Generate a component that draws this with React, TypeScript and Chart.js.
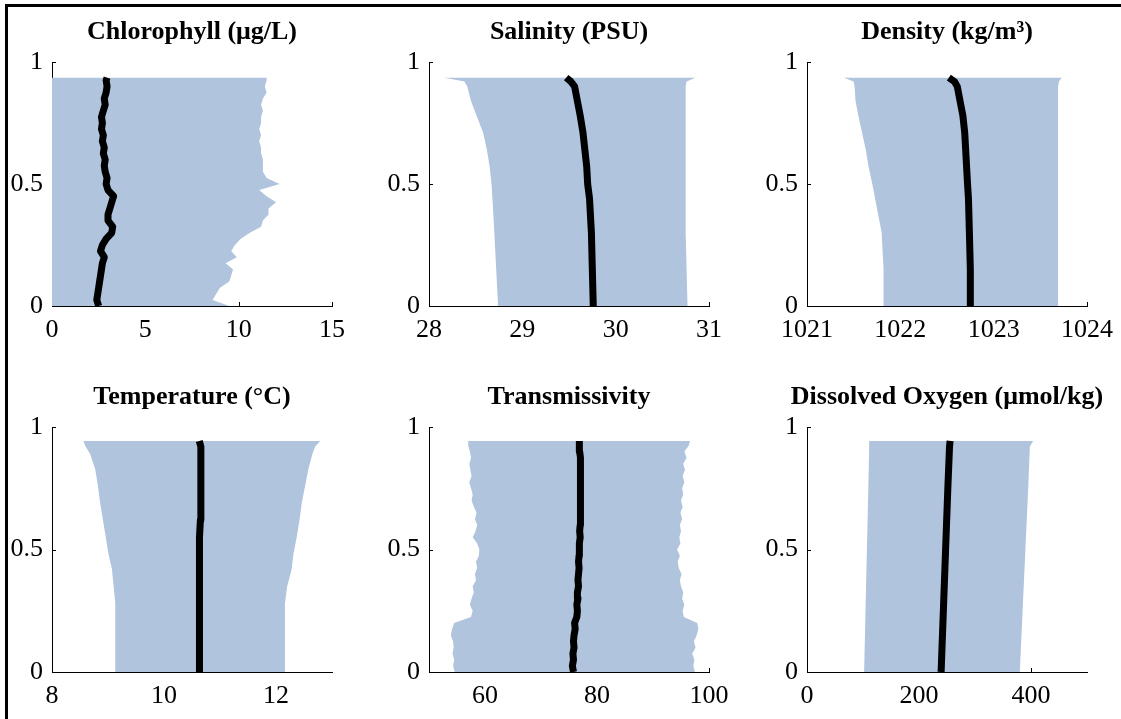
import React, { useEffect, useRef } from "react";
import { Chart, registerables } from "chart.js";

Chart.register(...registerables);

const FONT = "'Liberation Serif', 'Times New Roman', serif";
const FILL = "#B0C4DE";

// shared y axis (normalized depth)
const yTickValues = [0, 0.5, 1];
const yTickLabels = ["0", "0.5", "1"];

// ---------- Chlorophyll ----------
const chlDepth = [0, 0.025, 0.05, 0.075, 0.1, 0.125, 0.15, 0.175, 0.2, 0.225, 0.25, 0.275, 0.3, 0.325, 0.35, 0.375, 0.4, 0.425, 0.45, 0.475, 0.5, 0.525, 0.55, 0.575, 0.6, 0.625, 0.65, 0.675, 0.7, 0.725, 0.75, 0.775, 0.8, 0.825, 0.85, 0.875, 0.9, 0.925, 0.936];
const chlMin = [0, 0, 0, 0, 0, 0, 0, 0, 0, 0, 0, 0, 0, 0, 0, 0, 0, 0, 0, 0, 0, 0, 0, 0, 0, 0, 0, 0, 0, 0, 0, 0, 0, 0, 0, 0, 0, 0, 0];
const chlMean = [2.5, 2.4, 2.45, 2.5, 2.55, 2.6, 2.65, 2.7, 2.8, 2.6, 2.7, 2.9, 3.2, 3.25, 3.0, 3.0, 3.1, 3.2, 3.3, 3.0, 2.9, 2.95, 2.85, 2.8, 2.85, 2.75, 2.8, 2.7, 2.75, 2.65, 2.7, 2.65, 2.75, 2.85, 2.8, 2.9, 2.95, 2.9, 2.95];
const chlMax = [9.5, 8.6, 8.8, 9.0, 9.5, 9.6, 9.7, 9.3, 9.9, 9.6, 9.8, 10.1, 10.6, 11.2, 11.3, 11.6, 11.6, 12.0, 11.5, 11.1, 12.2, 11.5, 11.3, 11.3, 11.3, 11.2, 11.2, 11.1, 11.2, 11.1, 11.2, 11.2, 11.3, 11.2, 11.3, 11.5, 11.4, 11.5, 11.5];
const chlTicks = [0, 5, 10, 15];
const chlTickLabels = ["0", "5", "10", "15"];

// ---------- Salinity ----------
const salDepth = [0, 0.15, 0.3, 0.44, 0.5, 0.57, 0.64, 0.71, 0.78, 0.84, 0.9, 0.92, 0.936];
const salMin = [28.74, 28.72, 28.70, 28.68, 28.67, 28.65, 28.62, 28.58, 28.51, 28.45, 28.41, 28.38, 28.15];
const salMean = [29.76, 29.75, 29.74, 29.72, 29.70, 29.69, 29.67, 29.65, 29.62, 29.59, 29.56, 29.52, 29.47];
const salMax = [30.77, 30.76, 30.75, 30.75, 30.75, 30.75, 30.75, 30.75, 30.75, 30.75, 30.75, 30.76, 30.86];
const salTicks = [28, 29, 30, 31];
const salTickLabels = ["28", "29", "30", "31"];

// ---------- Density ----------
const denDepth = [0, 0.15, 0.3, 0.44, 0.5, 0.57, 0.64, 0.71, 0.78, 0.84, 0.9, 0.92, 0.936];
const denMin = [1021.82, 1021.82, 1021.80, 1021.73, 1021.70, 1021.66, 1021.63, 1021.59, 1021.55, 1021.52, 1021.51, 1021.50, 1021.39];
const denMean = [1022.75, 1022.75, 1022.74, 1022.73, 1022.72, 1022.71, 1022.70, 1022.69, 1022.67, 1022.64, 1022.61, 1022.58, 1022.52];
const denMax = [1023.69, 1023.69, 1023.69, 1023.69, 1023.69, 1023.69, 1023.69, 1023.69, 1023.69, 1023.69, 1023.69, 1023.70, 1023.73];
const denTicks = [1021, 1022, 1023, 1024];
const denTickLabels = ["1021", "1022", "1023", "1024"];

// ---------- Temperature ----------
const tempDepth = [0, 0.15, 0.28, 0.35, 0.42, 0.48, 0.55, 0.62, 0.69, 0.76, 0.83, 0.89, 0.92, 0.943];
const tempMin = [9.13, 9.13, 9.13, 9.10, 9.07, 9.01, 8.96, 8.91, 8.86, 8.82, 8.77, 8.68, 8.60, 8.56];
const tempMean = [10.63, 10.63, 10.63, 10.63, 10.63, 10.64, 10.64, 10.65, 10.66, 10.66, 10.66, 10.66, 10.65, 10.63];
const tempMax = [12.16, 12.16, 12.16, 12.20, 12.28, 12.31, 12.37, 12.42, 12.46, 12.52, 12.58, 12.65, 12.70, 12.79];
const tempTicks = [8, 10, 12];
const tempTickLabels = ["8", "10", "12"];

// ---------- Transmissivity ----------
const trDepth = [0, 0.025, 0.05, 0.075, 0.1, 0.125, 0.15, 0.175, 0.2, 0.225, 0.25, 0.275, 0.3, 0.325, 0.35, 0.375, 0.4, 0.425, 0.45, 0.475, 0.5, 0.525, 0.55, 0.575, 0.6, 0.625, 0.65, 0.675, 0.7, 0.725, 0.75, 0.775, 0.8, 0.825, 0.85, 0.875, 0.9, 0.925, 0.943];
const trMin = [54.6, 54.3, 54.5, 54.2, 54.4, 54.3, 53.9, 54.1, 54.5, 57.5, 57.8, 57.3, 57.6, 58.0, 57.8, 58.4, 58.2, 58.6, 58.4, 58.9, 59.0, 58.6, 57.8, 58.3, 58.6, 58.2, 58.5, 58.0, 57.6, 57.8, 57.5, 57.2, 57.6, 57.4, 57.2, 57.5, 57.3, 57.0, 57.0];
const trMean = [75.8, 75.6, 75.8, 75.7, 75.9, 75.8, 75.9, 76.1, 76.0, 76.4, 76.5, 76.4, 76.6, 76.5, 76.7, 76.6, 76.7, 76.8, 76.7, 76.8, 76.9, 76.8, 77.0, 76.9, 77.0, 77.1, 77.0, 77.1, 77.0, 77.1, 77.0, 77.1, 77.0, 77.1, 77.0, 77.0, 76.9, 76.9, 76.8];
const trMax = [97.5, 97.2, 97.4, 97.0, 97.6, 97.3, 97.8, 98.1, 97.9, 95.5, 95.3, 95.6, 95.2, 95.4, 95.0, 94.8, 95.1, 94.6, 94.4, 94.8, 94.3, 94.9, 94.7, 95.0, 94.8, 95.2, 94.9, 95.3, 95.0, 95.4, 95.2, 95.6, 95.3, 95.7, 95.4, 96.0, 95.6, 96.4, 96.6];
const trTicks = [60, 80, 100];
const trTickLabels = ["60", "80", "100"];

// ---------- Dissolved Oxygen ----------
const doDepth = [0, 0.25, 0.5, 0.75, 0.92, 0.943];
const doMin = [102, 104.5, 107, 109.5, 111, 111];
const doMean = [239.5, 243.5, 247.5, 251.5, 254.5, 255.5];
const doMax = [380, 385, 390, 395, 398, 404];
const doTicks = [0, 200, 400];
const doTickLabels = ["0", "200", "400"];

type PanelSpec = {
  title: string;
  depth: number[];
  min: number[];
  mean: number[];
  max: number[];
  xMin: number;
  xMax: number;
  ticks: number[];
  tickLabels: string[];
  left: number;
  top: number;
  plotH: number;
};

const AXIS_W = 52;
const PLOT_W = 280;
const TITLE_H = 62;
const XAXIS_H = 54;

const panels: PanelSpec[] = [
  { title: "Chlorophyll (\u03bcg/L)", depth: chlDepth, min: chlMin, mean: chlMean, max: chlMax, xMin: 0, xMax: 15, ticks: chlTicks, tickLabels: chlTickLabels, left: 0, top: 0, plotH: 244 },
  { title: "Salinity (PSU)", depth: salDepth, min: salMin, mean: salMean, max: salMax, xMin: 28, xMax: 31, ticks: salTicks, tickLabels: salTickLabels, left: 377, top: 0, plotH: 244 },
  { title: "Density (kg/m\u00b3)", depth: denDepth, min: denMin, mean: denMean, max: denMax, xMin: 1021, xMax: 1024, ticks: denTicks, tickLabels: denTickLabels, left: 755, top: 0, plotH: 244 },
  { title: "Temperature (\u00b0C)", depth: tempDepth, min: tempMin, mean: tempMean, max: tempMax, xMin: 8, xMax: 13, ticks: tempTicks, tickLabels: tempTickLabels, left: 0, top: 365, plotH: 245 },
  { title: "Transmissivity", depth: trDepth, min: trMin, mean: trMean, max: trMax, xMin: 50, xMax: 100, ticks: trTicks, tickLabels: trTickLabels, left: 377, top: 365, plotH: 245 },
  { title: "Dissolved Oxygen (\u03bcmol/kg)", depth: doDepth, min: doMin, mean: doMean, max: doMax, xMin: 0, xMax: 500, ticks: doTicks, tickLabels: doTickLabels, left: 755, top: 365, plotH: 245 },
];

const inwardTicks = {
  id: "inwardTicks",
  beforeDatasetsDraw(chart: any) {
    const { ctx, chartArea } = chart;
    const xs = chart.scales.x;
    const ys = chart.scales.y;
    ctx.save();
    ctx.strokeStyle = "#000";
    ctx.lineWidth = 1;
    ctx.beginPath();
    xs.ticks.forEach((t: any) => {
      const p = Math.round(xs.getPixelForValue(t.value)) + 0.5;
      ctx.moveTo(p, chartArea.bottom);
      ctx.lineTo(p, chartArea.bottom - 4);
    });
    ys.ticks.forEach((t: any) => {
      const p = Math.round(ys.getPixelForValue(t.value)) + 0.5;
      ctx.moveTo(chartArea.left, p);
      ctx.lineTo(chartArea.left + 4, p);
    });
    ctx.stroke();
    ctx.restore();
  },
};

function Panel({ p }: { p: PanelSpec }) {
  const ref = useRef<HTMLCanvasElement>(null);
  const W = AXIS_W * 2 + PLOT_W;
  const H = TITLE_H + p.plotH + XAXIS_H;

  useEffect(() => {
    const pts = (xs: number[]) => xs.map((x, i) => ({ x, y: p.depth[i] }));
    const chart = new Chart(ref.current as HTMLCanvasElement, {
      type: "line",
      data: {
        datasets: [
          {
            data: pts(p.mean),
            borderColor: "#000",
            borderWidth: 7,
            borderCapStyle: "butt",
            borderJoinStyle: "round",
            pointRadius: 0,
            fill: false,
          },
          {
            data: pts(p.min),
            borderColor: "rgba(0,0,0,0)",
            borderWidth: 0,
            pointRadius: 0,
            fill: false,
          },
          {
            data: pts(p.max),
            borderColor: "rgba(0,0,0,0)",
            borderWidth: 0,
            pointRadius: 0,
            backgroundColor: FILL,
            fill: "-1",
          },
        ],
      } as any,
      options: {
        responsive: false,
        animation: false,
        indexAxis: "y",
        events: [],
        layout: { padding: 0 },
        plugins: {
          legend: { display: false },
          tooltip: { enabled: false },
          title: {
            display: true,
            text: p.title,
            color: "#000",
            font: { family: FONT, size: 26, weight: "bold", lineHeight: 1 },
            padding: { top: 19, bottom: 17 },
          },
        },
        scales: {
          x: {
            type: "linear",
            position: "bottom",
            min: p.xMin,
            max: p.xMax,
            grid: { display: false, drawTicks: false },
            border: { display: true, color: "#000", width: 1 },
            ticks: {
              color: "#000",
              font: { family: FONT, size: 26, lineHeight: 1.2 },
              padding: 9,
              maxRotation: 0,
              autoSkip: false,
              callback: (_v: any, i: number) => p.tickLabels[i],
            },
            afterBuildTicks: (s: any) => {
              s.ticks = p.ticks.map((v) => ({ value: v }));
            },
            afterFit: (s: any) => {
              s.height = XAXIS_H;
              s.paddingLeft = 0;
              s.paddingRight = AXIS_W;
            },
          },
          y: {
            type: "linear",
            position: "left",
            min: 0,
            max: 1,
            grid: { display: false, drawTicks: false },
            border: { display: true, color: "#000", width: 1 },
            ticks: {
              color: "#000",
              font: { family: FONT, size: 26, lineHeight: 1.2 },
              padding: 9,
              autoSkip: false,
              callback: (_v: any, i: number) => yTickLabels[i],
            },
            afterBuildTicks: (s: any) => {
              s.ticks = yTickValues.map((v) => ({ value: v }));
            },
            afterFit: (s: any) => {
              s.width = AXIS_W;
              s.paddingTop = 0;
              s.paddingBottom = 0;
            },
          },
        },
      } as any,
      plugins: [inwardTicks],
    });
    return () => chart.destroy();
  }, []);

  return (
    <canvas
      ref={ref}
      width={W}
      height={H}
      style={{ position: "absolute", left: p.left, top: p.top, width: W, height: H }}
    />
  );
}

export default function App() {
  return (
    <div
      style={{
        position: "absolute",
        left: 0,
        top: 0,
        width: 1121,
        height: 719,
        overflow: "hidden",
        background: "#fff",
      }}
    >
      <div style={{ position: "absolute", left: 5, top: 4, width: 1116, height: 3, background: "#000" }} />
      <div style={{ position: "absolute", left: 5, top: 4, width: 3, height: 715, background: "#000" }} />
      {panels.map((p, i) => (
        <Panel key={i} p={p} />
      ))}
    </div>
  );
}
